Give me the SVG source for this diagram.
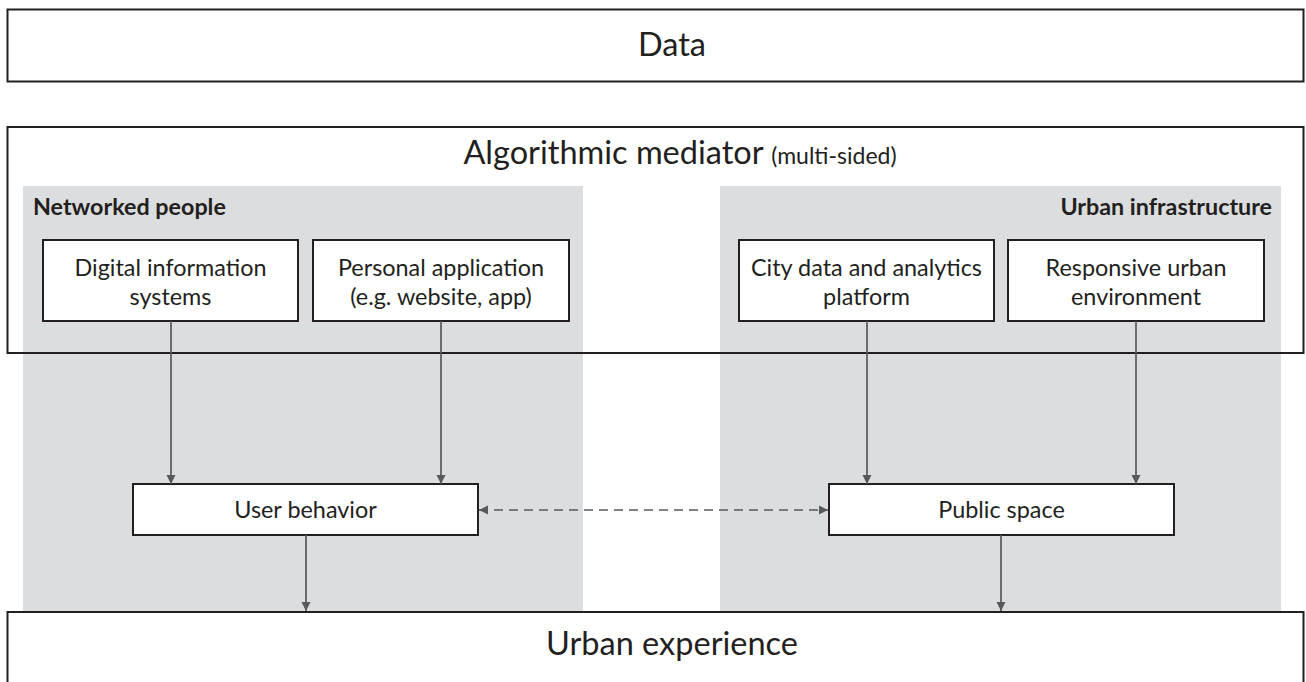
<svg xmlns="http://www.w3.org/2000/svg" width="1306" height="682" viewBox="0 0 1306 682">
<defs>
<style>
.frame{fill:none;stroke:#231f20;stroke-width:2}
.box{fill:#ffffff;stroke:#231f20;stroke-width:2}
.panel{fill:#dcdddf}
.t{font-family:Lato,"Open Sans",sans-serif;fill:#231f20;text-anchor:middle}
.big{font-size:32.5px}
.lab{font-size:23.4px}
.bold{font-size:23.3px;font-weight:bold}
.con{stroke:#58595b;stroke-width:1.7;fill:none}
.dash{stroke-dasharray:9 6}
</style>
<marker id="ah" viewBox="0 0 10 10" refX="10" refY="5" markerWidth="5.5" markerHeight="5.5" markerUnits="strokeWidth" orient="auto-start-reverse">
<path d="M0,0 L10,5 L0,10 z" fill="#58595b"/>
</marker>
</defs>
<rect width="1306" height="682" fill="#ffffff"/>
<g id="data">
<rect class="box" x="7.5" y="9.5" width="1296" height="72"/>
<text class="t big" x="672" y="56">Data</text>
</g>
<g id="mediator">
<rect x="7.5" y="127" width="1296" height="226" fill="#ffffff"/>
<rect id="networked-people" class="panel" x="23" y="186" width="560" height="426"/>
<rect id="urban-infrastructure" class="panel" x="720" y="186" width="561" height="426"/>
<rect class="frame" x="7.5" y="127" width="1296" height="226"/>
<text class="t big" x="680" y="164">Algorithmic mediator <tspan font-size="23px">(multi-sided)</tspan></text>
<text class="t bold" x="33" y="215" style="text-anchor:start">Networked people</text>
<text class="t bold" x="1272" y="215" style="text-anchor:end">Urban infrastructure</text>
</g>
<g id="digital">
<rect class="box" x="43" y="240" width="255" height="81"/>
<text class="t lab" x="170.5" y="276">Digital information</text>
<text class="t lab" x="170.5" y="305">systems</text>
</g>
<g id="personal">
<rect class="box" x="313" y="240" width="256" height="81"/>
<text class="t lab" x="441" y="276">Personal application</text>
<text class="t lab" x="441" y="305">(e.g. website, app)</text>
</g>
<g id="city">
<rect class="box" x="739" y="240" width="255" height="81"/>
<text class="t lab" x="866.5" y="276">City data and analytics</text>
<text class="t lab" x="866.5" y="305">platform</text>
</g>
<g id="responsive">
<rect class="box" x="1008" y="240" width="256" height="81"/>
<text class="t lab" x="1136" y="276">Responsive urban</text>
<text class="t lab" x="1136" y="305">environment</text>
</g>
<g id="user-behavior">
<rect class="box" x="133" y="484" width="345" height="51"/>
<text class="t lab" x="305.5" y="518">User behavior</text>
</g>
<g id="public-space">
<rect class="box" x="829" y="484" width="345" height="51"/>
<text class="t lab" x="1001.5" y="518">Public space</text>
</g>
<g id="urban-experience">
<rect class="box" x="7.5" y="612" width="1296" height="80"/>
<text class="t big" x="672" y="655">Urban experience</text>
</g>
<g id="connectors">
<line class="con" x1="171" y1="321" x2="171" y2="484" marker-end="url(#ah)"/>
<line class="con" x1="441" y1="321" x2="441" y2="484" marker-end="url(#ah)"/>
<line class="con" x1="867" y1="321" x2="867" y2="484" marker-end="url(#ah)"/>
<line class="con" x1="1136" y1="321" x2="1136" y2="484" marker-end="url(#ah)"/>
<line class="con" x1="306" y1="535" x2="306" y2="611" marker-end="url(#ah)"/>
<line class="con" x1="1001" y1="535" x2="1001" y2="611" marker-end="url(#ah)"/>
<line class="con dash" x1="479" y1="510" x2="828" y2="510" marker-start="url(#ah)" marker-end="url(#ah)"/>
</g>
</svg>
